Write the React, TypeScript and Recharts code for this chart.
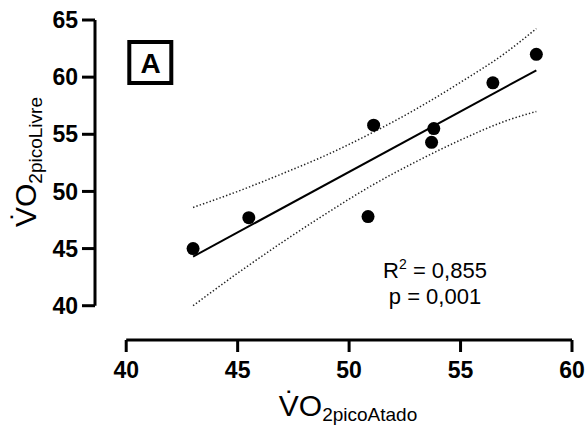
import {
  ComposedChart,
  Scatter,
  Line,
  XAxis,
  YAxis,
} from "recharts";

// VO2 pico values
const vo2Atado = [43, 45.5, 50.85, 51.1, 53.7, 53.8, 56.45, 58.4];
const vo2Livre = [45, 47.7, 47.8, 55.8, 54.3, 55.5, 59.5, 62];

// regression line end points
const fitX = [43, 58.4];
const fitY = [44.3, 60.6];

// 95% confidence bands
const bandX = [43, 45, 47, 49, 51, 53, 55, 57, 58.4];
const bandUpper = [48.6, 50.0, 51.55, 53.2, 55.1, 57.2, 59.55, 62.1, 64.25];
const bandLower = [40.0, 42.85, 45.55, 48.1, 50.5, 52.6, 54.5, 56.15, 57.0];

const xTicks = [40, 45, 50, 55, 60];
const yTicks = [40, 45, 50, 55, 60, 65];

// axes are drawn offset from the data area (Prism style)
const X_LO = 38.6;
const Y_LO = 37;

const points = vo2Atado.map((x, i) => ({ x, y: vo2Livre[i] }));
const fit = fitX.map((x, i) => ({ x, y: fitY[i] }));
const upper = bandX.map((x, i) => ({ x, y: bandUpper[i] }));
const lower = bandX.map((x, i) => ({ x, y: bandLower[i] }));
const xAxisLine = [
  { x: xTicks[0], y: Y_LO },
  { x: xTicks[xTicks.length - 1], y: Y_LO },
];
const yAxisLine = [
  { x: X_LO, y: yTicks[0] },
  { x: X_LO, y: yTicks[yTicks.length - 1] },
];

const font = "'Liberation Sans', Arial, sans-serif";
const tickStyle = { fill: "#000", fontSize: 23, fontWeight: "bold", fontFamily: font };
const axisStroke = { stroke: "#000", strokeWidth: 3 };

export default function App() {
  return (
    <div
      style={{
        position: "fixed",
        left: 0,
        top: 0,
        width: 587,
        height: 428,
        background: "#fff",
      }}
    >
      <ComposedChart
        width={587}
        height={428}
        margin={{ top: 20, right: 15, left: 0, bottom: 28 }}
      >
        <XAxis
          type="number"
          dataKey="x"
          domain={[X_LO, 60]}
          ticks={xTicks}
          stroke="#000"
          axisLine={false}
          tickLine={axisStroke}
          tickSize={12}
          tickMargin={10}
          tick={tickStyle}
          height={60}
        />
        <YAxis
          type="number"
          dataKey="y"
          domain={[Y_LO, 65]}
          ticks={yTicks}
          stroke="#000"
          axisLine={false}
          tickLine={axisStroke}
          tickSize={13}
          tickMargin={4}
          tick={tickStyle}
          width={95}
        />

        {/* offset axis lines */}
        <Line
          data={xAxisLine}
          dataKey="y"
          type="linear"
          stroke="#000"
          strokeWidth={3}
          dot={false}
          activeDot={false}
          isAnimationActive={false}
        />
        <Line
          data={yAxisLine}
          dataKey="y"
          type="linear"
          stroke="#000"
          strokeWidth={3}
          dot={false}
          activeDot={false}
          isAnimationActive={false}
        />

        <Line
          data={upper}
          dataKey="y"
          type="monotone"
          stroke="#222"
          strokeWidth={1.5}
          strokeDasharray="1.4 2.1"
          dot={false}
          activeDot={false}
          isAnimationActive={false}
        />
        <Line
          data={lower}
          dataKey="y"
          type="monotone"
          stroke="#222"
          strokeWidth={1.5}
          strokeDasharray="1.4 2.1"
          dot={false}
          activeDot={false}
          isAnimationActive={false}
        />
        <Line
          data={fit}
          dataKey="y"
          type="linear"
          stroke="#000"
          strokeWidth={2}
          dot={false}
          activeDot={false}
          isAnimationActive={false}
        />
        <Scatter
          data={points}
          dataKey="y"
          isAnimationActive={false}
          shape={(p: any) => <circle cx={p.cx} cy={p.cy} r={6.5} fill="#000" />}
        />
      </ComposedChart>

      <svg
        width={587}
        height={428}
        style={{ position: "absolute", left: 0, top: 0, pointerEvents: "none" }}
        fontFamily={font}
      >
        {/* panel letter */}
        <rect x={129.3} y={42} width={42} height={41} fill="none" stroke="#000" strokeWidth={4} />
        <text x={150.5} y={73} textAnchor="middle" fontSize={28} fontWeight="bold">
          A
        </text>

        {/* stats */}
        <text x={435} y={278} textAnchor="middle" fontSize={22}>
          R<tspan dy={-9} fontSize={14}>2</tspan>
          <tspan dy={9}> = 0,855</tspan>
        </text>
        <text x={435} y={304} textAnchor="middle" fontSize={22}>
          p = 0,001
        </text>

        {/* axis titles */}
        <text x={348} y={416} textAnchor="middle" fontSize={30}>
          {"V\u0307O"}
          <tspan dy={5} fontSize={19}>2picoAtado</tspan>
        </text>
        <text transform="translate(36,162) rotate(-90)" textAnchor="middle" fontSize={30}>
          {"V\u0307O"}
          <tspan dy={6} fontSize={19}>2picoLivre</tspan>
        </text>
      </svg>
    </div>
  );
}
